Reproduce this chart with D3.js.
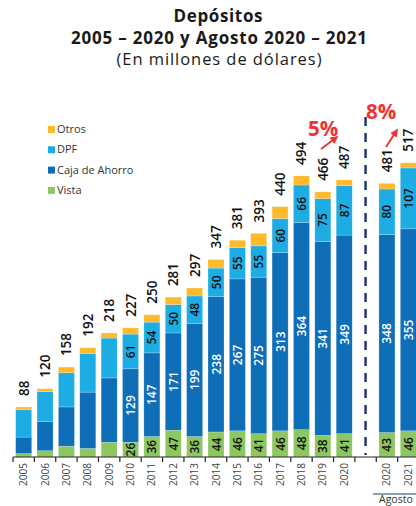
<!DOCTYPE html>
<html><head><meta charset="utf-8">
<script src="https://cdn.jsdelivr.net/npm/d3@7"></script>
<style>body{margin:0;background:#fff}svg{display:block}</style>
</head><body>
<svg id="c" width="416" height="506"></svg>
<script>
const categories = ["2005","2006","2007","2008","2009","2010","2011","2012","2013","2014","2015","2016","2017","2018","2019","2020","","A2020","A2021"];
const tickLabels = ["2005","2006","2007","2008","2009","2010","2011","2012","2013","2014","2015","2016","2017","2018","2019","2020","","2020","2021"];
const vista  = [6, 11, 19, 15, 26, 26, 36, 47, 36, 44, 46, 41, 46, 48, 38, 41, null, 43, 46];
const caja   = [29, 51, 69, 99, 113, 129, 147, 171, 199, 238, 267, 275, 313, 364, 341, 349, null, 348, 355];
const dpf    = [48, 53, 60, 68, 70, 61, 54, 50, 48, 50, 55, 55, 60, 66, 75, 87, null, 80, 107];
const otros  = [5, 5, 10, 10, 9, 11, 13, 13, 14, 15, 13, 22, 21, 16, 12, 10, null, 10, 9];
const totals = [88, 120, 158, 192, 218, 227, 250, 281, 297, 347, 381, 393, 440, 494, 466, 487, null, 481, 517];
const showInner = [false,false,false,false,false,true,true,true,true,true,true,true,true,true,true,true,false,true,true];
const seriesNames = ["Vista","Caja de Ahorro","DPF","Otros"];
const seriesColors = ["#8DC762","#0E6EB8","#1DADE4","#FDBA2C"];
const innerTextColors = ["#111","#fff","#111",null];

const svg = d3.select("#c");
const font = "'Open Sans', sans-serif";

// Title
const title = svg.append("g").attr("font-family", font).attr("text-anchor","middle").attr("fill","#1a1a1a");
title.append("text").attr("x",218).attr("y",22).attr("font-size",17).attr("font-weight",700)
  .attr("textLength",89).attr("lengthAdjust","spacing").text("Depósitos");
title.append("text").attr("x",219).attr("y",44).attr("font-size",17).attr("font-weight",700)
  .attr("textLength",296).attr("lengthAdjust","spacing").text("2005 – 2020 y Agosto 2020 – 2021");
title.append("text").attr("x",219).attr("y",65).attr("font-size",16.5).attr("font-weight",400)
  .attr("textLength",205).attr("lengthAdjust","spacing").text("(En millones de dólares)");

const x = d3.scaleBand().domain(categories).range([13, 419]).paddingInner(0.25).paddingOuter(0.125);
const y = d3.scaleLinear().domain([0, 600]).range([457, 457 - 600*0.569]);

const data = categories.map((c,i)=>({cat:c, Vista:vista[i], "Caja de Ahorro":caja[i], DPF:dpf[i], Otros:otros[i], i}));
const stack = d3.stack().keys(seriesNames).value((d,k)=>d[k] || 0)(data);

const gBars = svg.append("g");
stack.forEach((layer, si) => {
  gBars.append("g").attr("fill", seriesColors[si])
    .selectAll("rect").data(layer.filter(d=>d.data[seriesNames[si]] != null)).join("rect")
    .attr("x", d=>x(d.data.cat)).attr("width", x.bandwidth())
    .attr("y", d=>y(d[1])).attr("height", d=>y(d[0])-y(d[1]))
    .attr("stroke","#ffffff").attr("stroke-opacity",0.35).attr("stroke-width",0.6);
});

// inner labels
stack.forEach((layer, si) => {
  if (!innerTextColors[si]) return;
  gBars.append("g").selectAll("text").data(layer.filter(d=>showInner[d.data.i])).join("text")
    .attr("transform", d=>`translate(${x(d.data.cat)+x.bandwidth()/2+4.5},${(y(d[0])+y(d[1]))/2}) rotate(-90)`)
    .attr("text-anchor","middle")
    .attr("font-family", font).attr("font-size",12).attr("font-weight",600)
    .attr("fill", innerTextColors[si])
    .text(d=>d.data[seriesNames[si]]);
});

// total labels
svg.append("g").selectAll("text").data(data.filter(d=>totals[d.i]!=null)).join("text")
  .attr("transform", d=>`translate(${x(d.cat)+x.bandwidth()/2+5},${y(totals[d.i])-11}) rotate(-90)`)
  .attr("text-anchor","start")
  .attr("font-family", font).attr("font-size",13.5).attr("font-weight",600).attr("fill","#111")
  .text(d=>totals[d.i]);

// axis
const axisY = 457;
svg.append("line").attr("x1",13).attr("x2",416).attr("y1",axisY).attr("y2",axisY).attr("stroke","#222").attr("stroke-width",1.2);
const step = x.step();
const bounds = d3.range(categories.length+1).map(i=>13 + i*step);
svg.append("g").selectAll("line").data(bounds).join("line")
  .attr("x1",d=>d).attr("x2",d=>d).attr("y1",axisY).attr("y2",axisY+5).attr("stroke","#222").attr("stroke-width",1.2);
svg.append("g").selectAll("text").data(categories).join("text")
  .attr("transform", (d,i)=>`translate(${x(d)+x.bandwidth()/2+3.5},${axisY+6}) rotate(-90)`)
  .attr("text-anchor","end")
  .attr("font-family", font).attr("font-size",10).attr("fill","#444")
  .text((d,i)=>tickLabels[i]);

// dashed separator
const sepX = x("") + x.bandwidth()/2;
svg.append("line").attr("x1",sepX).attr("x2",sepX).attr("y1",117).attr("y2",455)
  .attr("stroke","#1F3B66").attr("stroke-width",2.5).attr("stroke-dasharray","9,7");

// Agosto label
svg.append("line").attr("x1",373).attr("x2",416).attr("y1",494).attr("y2",494).attr("stroke","#1F3B66").attr("stroke-width",1);
svg.append("text").attr("x",379).attr("y",503).attr("font-family",font).attr("font-size",10.5).attr("fill","#333").text("Agosto");

// growth annotations
const ann = svg.append("g").attr("font-family",font).attr("font-weight",700).attr("fill","#EE3333");
ann.append("text").attr("x",308).attr("y",136).attr("font-size",20.5).text("5%");
ann.append("text").attr("x",366).attr("y",119).attr("font-size",20.5).text("8%");
svg.append("defs").append("marker").attr("id","ah").attr("viewBox","0 0 10 10").attr("refX",8).attr("refY",5)
  .attr("markerWidth",4).attr("markerHeight",4).attr("orient","auto")
  .append("path").attr("d","M0,0L10,5L0,10z").attr("fill","#EE3333");
svg.append("line").attr("x1",321).attr("y1",149).attr("x2",337).attr("y2",137).attr("stroke","#EE3333").attr("stroke-width",2).attr("marker-end","url(#ah)");
svg.append("line").attr("x1",386).attr("y1",147).attr("x2",397).attr("y2",130).attr("stroke","#EE3333").attr("stroke-width",2).attr("marker-end","url(#ah)");

// legend
const legendItems = [["Otros",3],["DPF",2],["Caja de Ahorro",1],["Vista",0]];
const lg = svg.append("g").attr("font-family",font).attr("font-size",11).attr("fill","#333");
legendItems.forEach(([name,si],k)=>{
  const yy = 133 + k*20.3;
  lg.append("rect").attr("x",48).attr("y",yy-7).attr("width",7).attr("height",7).attr("fill",seriesColors[si]);
  lg.append("text").attr("x",57).attr("y",yy).text(name);
});
</script>
</body></html>
